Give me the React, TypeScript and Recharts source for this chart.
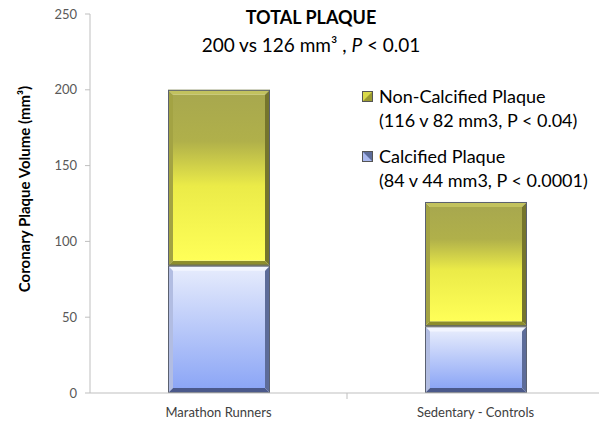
import React from 'react';
import { BarChart, Bar, XAxis, YAxis } from 'recharts';

const categories = ['Marathon Runners', 'Sedentary - Controls'];
const calcified = [84, 44];
const nonCalcified = [116, 82];
const yTicks = [0, 50, 100, 150, 200, 250];
const seriesNames = ['Non-Calcified Plaque', 'Calcified Plaque'];
const seriesNotes = ['(116 v 82 mm3, P < 0.04)', '(84 v 44 mm3, P < 0.0001)'];

const data = categories.map((name, i) => ({
  name,
  calcified: calcified[i],
  nonCalcified: nonCalcified[i],
}));

const FONT = 'Lato, "Open Sans", sans-serif';
const CHART_W = 606;
const MARGIN = { top: 14, right: 2, bottom: 0, left: 0 };
const Y_W = 90;
const HALF_BAND = (CHART_W - MARGIN.right - MARGIN.left - Y_W) / categories.length / 2;

const palettes: Record<string, any> = {
  yellow: { id: 'gYellow', top: '#c2c25e', left: '#a3a343', right: '#75752c', bottom: '#8d8d2c' },
  blue: { id: 'gBlue', top: '#f2f5ff', left: '#b2bde2', right: '#5d6c99', bottom: '#4b598b' },
};

// bevelled Excel-like bar
const BevelBar = (props: any) => {
  const { x, y, width, height, tone } = props;
  if (!height || height <= 0) return null;
  const p = palettes[tone];
  const b = 5;
  const x2 = x + width;
  const y2 = y + height;
  return (
    <g>
      <polygon points={`${x},${y} ${x2},${y} ${x2 - b},${y + b} ${x + b},${y + b}`} fill={p.top} />
      <polygon points={`${x},${y} ${x + b},${y + b} ${x + b},${y2 - b} ${x},${y2}`} fill={p.left} />
      <polygon points={`${x2},${y} ${x2},${y2} ${x2 - b},${y2 - b} ${x2 - b},${y + b}`} fill={p.right} />
      <polygon points={`${x},${y2} ${x + b},${y2 - b} ${x2 - b},${y2 - b} ${x2},${y2}`} fill={p.bottom} />
      <rect x={x + b} y={y + b} width={width - 2 * b} height={height - 2 * b} fill={`url(#${p.id})`} />
      <rect x={x + 0.5} y={y + 0.5} width={width - 1} height={height - 1} fill="none" stroke="#5b6170" strokeWidth={1} />
    </g>
  );
};

const CategoryTick = (props: any) => {
  const { x, y, payload } = props;
  const half = payload && payload.offset ? payload.offset : HALF_BAND;
  return (
    <g>
      {payload.index > 0 && <line x1={x - half} y1={y - 8} x2={x - half} y2={y - 2} stroke="#bfbfbf" />}
      <text x={x} y={y + 11} textAnchor="middle" dominantBaseline="central" fontSize={13} fill="#404040" fontFamily={FONT}>
        {payload.value}
      </text>
    </g>
  );
};

const YLabel = () => (
  <text
    x={24}
    y={189}
    transform="rotate(-90, 24, 189)"
    textAnchor="middle"
    dominantBaseline="central"
    fontSize={15}
    fontWeight="bold"
    fill="#000"
    fontFamily={FONT}
  >
    Coronary Plaque Volume (mm³)
  </text>
);

const LegendBox = () => (
  <div
    style={{
      position: 'absolute',
      left: 362,
      top: 84,
      width: 240,
      fontFamily: FONT,
      fontSize: 18,
      color: '#000',
      lineHeight: '24px',
      zIndex: 2,
    }}
  >
    {seriesNames.map((name, i) => (
      <div key={name} style={{ marginBottom: i === 0 ? 12 : 0 }}>
        <div style={{ display: 'flex', alignItems: 'center' }}>
          <svg width={11} height={11} style={{ marginRight: 6 }}>
            <rect x={0.5} y={0.5} width={10} height={10} fill={i === 0 ? '#d9d94a' : '#a9b8ee'} stroke="#555" />
            <polygon points={i === 0 ? '1,10 10,1 10,10' : '1,1 10,1 10,10'} fill={i === 0 ? '#9a9a30' : '#5d6c99'} />
          </svg>
          <span>{name}</span>
        </div>
        <div style={{ paddingLeft: 17 }}>{seriesNotes[i]}</div>
      </div>
    ))}
  </div>
);

export default function App() {
  return (
    <div style={{ position: 'absolute', left: 0, top: 0, width: 599, height: 421, overflow: 'hidden', background: '#fff' }}>
      <div
        style={{
          position: 'absolute',
          left: 0,
          width: 622,
          top: 4,
          textAlign: 'center',
          fontFamily: FONT,
          lineHeight: '27px',
          color: '#000',
          zIndex: 2,
        }}
      >
        <div style={{ fontWeight: 'bold', fontSize: 18 }}>TOTAL PLAQUE</div>
        <div style={{ fontSize: 19 }}>
          200 vs 126 mm³ , <i>P</i> &lt; 0.01
        </div>
      </div>
      <LegendBox />
      <BarChart width={CHART_W} height={421} data={data} margin={MARGIN} barSize={102}>
        <defs>
          <linearGradient id="gYellow" x1="0" y1="0" x2="0" y2="1">
            <stop offset="0%" stopColor="#a8a84e" />
            <stop offset="28%" stopColor="#b0b04a" />
            <stop offset="55%" stopColor="#ebeb48" />
            <stop offset="100%" stopColor="#ffff58" />
          </linearGradient>
          <linearGradient id="gBlue" x1="0" y1="0" x2="0" y2="1">
            <stop offset="0%" stopColor="#e4eafc" />
            <stop offset="100%" stopColor="#8ca6f6" />
          </linearGradient>
        </defs>
        <XAxis
          dataKey="name"
          stroke="#bfbfbf"
          height={28}
          tickLine={false}
          tick={<CategoryTick />}
          interval={0}
        />
        <YAxis
          width={Y_W}
          domain={[0, 250]}
          ticks={yTicks}
          stroke="#bfbfbf"
          tickSize={5}
          tickMargin={8}
          tick={{ fill: '#595959', fontSize: 13, fontFamily: FONT }}
          label={<YLabel />}
        />
        <Bar dataKey="calcified" stackId="a" isAnimationActive={false} shape={<BevelBar tone="blue" />} />
        <Bar dataKey="nonCalcified" stackId="a" isAnimationActive={false} shape={<BevelBar tone="yellow" />} />
      </BarChart>
    </div>
  );
}
